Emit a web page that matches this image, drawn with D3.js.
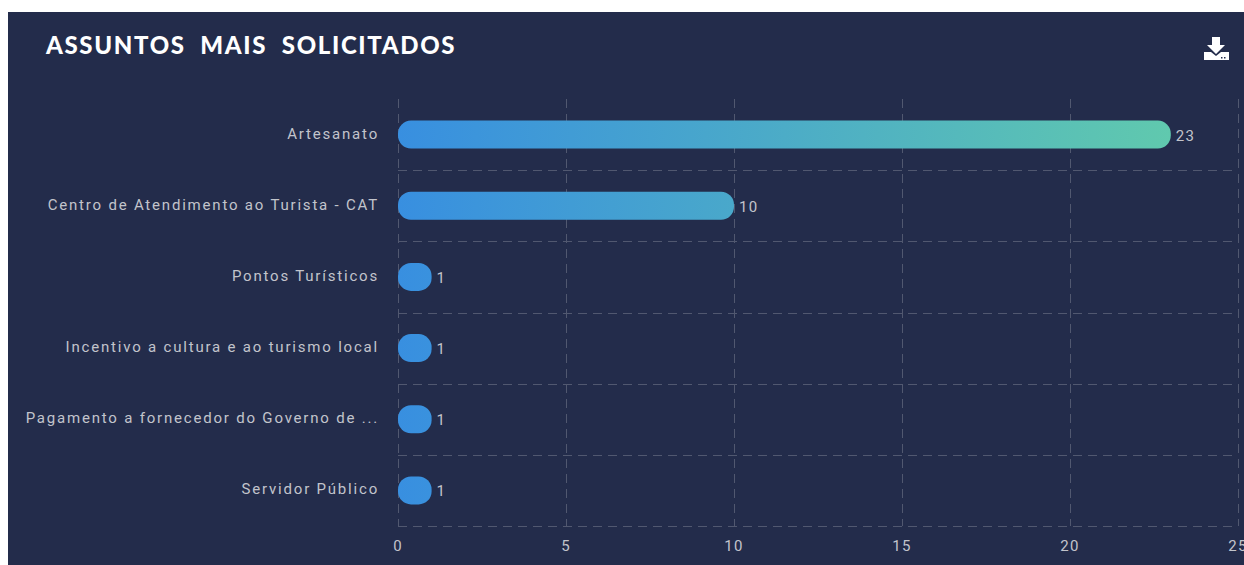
<!DOCTYPE html>
<html>
<head>
<meta charset="utf-8">
<script src="https://cdn.jsdelivr.net/npm/d3@7"></script>
<style>
  html, body { margin: 0; padding: 0; background: #fff; overflow: hidden; }
  svg { display: block; }
  text { font-family: Roboto, sans-serif; }
</style>
</head>
<body>
<div id="chart"></div>
<script>
const categories = [
  "Artesanato",
  "Centro de Atendimento ao Turista - CAT",
  "Pontos Turísticos",
  "Incentivo a cultura e ao turismo local",
  "Pagamento a fornecedor do Governo de ...",
  "Servidor Público"
];
const values = [23, 10, 1, 1, 1, 1];
const xTicks = [0, 5, 10, 15, 20, 25];
const title = "ASSUNTOS  MAIS  SOLICITADOS";

const width = 1244, height = 565;
const margin = { left: 398, right: 6, top: 99, bottom: 39 };
const textColor = "#c2c4cb";

const svg = d3.select("#chart").append("svg")
    .attr("width", width)
    .attr("height", height);

// panel
svg.append("rect")
    .attr("x", 8).attr("y", 12)
    .attr("width", width - 8).attr("height", height - 12)
    .attr("fill", "#232c4b");

const x = d3.scaleLinear().domain([0, 25]).range([margin.left, width - margin.right]);
const y = d3.scaleBand().domain(categories).range([margin.top, height - margin.bottom]);

// bars share one gradient across the longest bar
const grad = svg.append("defs").append("linearGradient")
    .attr("id", "barGrad")
    .attr("gradientUnits", "userSpaceOnUse")
    .attr("x1", x(0)).attr("x2", x(d3.max(values)))
    .attr("y1", 0).attr("y2", 0);
grad.append("stop").attr("offset", "0%").attr("stop-color", "#388fe0");
grad.append("stop").attr("offset", "100%").attr("stop-color", "#60c9ae");

// grid
const grid = svg.append("g")
    .attr("stroke", "#515870")
    .attr("stroke-width", 1)
    .attr("stroke-dasharray", "9 6")
    .attr("fill", "none");
grid.selectAll("line.v")
  .data(xTicks)
  .join("line")
    .attr("class", "v")
    .attr("x1", d => Math.round(x(d)) + 0.5).attr("x2", d => Math.round(x(d)) + 0.5)
    .attr("y1", margin.top).attr("y2", height - margin.bottom);
grid.selectAll("line.h")
  .data(categories)
  .join("line")
    .attr("class", "h")
    .attr("x1", x(0)).attr("x2", x(25))
    .attr("y1", d => Math.round(y(d) + y.bandwidth()) + 0.5)
    .attr("y2", d => Math.round(y(d) + y.bandwidth()) + 0.5);

// bars
const barH = 28;
const barY = d => y(d) + (y.bandwidth() - barH) / 2;
svg.append("g").selectAll("rect")
  .data(categories)
  .join("rect")
    .attr("x", x(0))
    .attr("y", barY)
    .attr("width", (d, i) => x(values[i]) - x(0))
    .attr("height", barH)
    .attr("rx", 13).attr("ry", 13)
    .attr("fill", "url(#barGrad)");

// value labels
svg.append("g").selectAll("text")
  .data(categories)
  .join("text")
    .attr("x", (d, i) => x(values[i]) + 5)
    .attr("y", d => barY(d) + barH / 2 + 6)
    .attr("fill", textColor)
    .style("font-size", "15px")
    .style("letter-spacing", "1.2px")
    .text((d, i) => values[i]);

// category labels
svg.append("g").selectAll("text")
  .data(categories)
  .join("text")
    .attr("x", 379)
    .attr("y", d => barY(d) + barH / 2 + 4)
    .attr("text-anchor", "end")
    .attr("fill", textColor)
    .style("font-size", "15px")
    .style("letter-spacing", "1.8px")
    .text(d => d);

// x tick labels
svg.append("g").selectAll("text")
  .data(xTicks)
  .join("text")
    .attr("x", d => x(d))
    .attr("y", 551)
    .attr("text-anchor", "middle")
    .attr("fill", textColor)
    .style("font-size", "15px")
    .style("letter-spacing", "1.2px")
    .text(d => d);

// title
svg.append("text")
    .attr("x", 46).attr("y", 54)
    .attr("fill", "#fff")
    .style("font-family", "Lato, sans-serif")
    .style("font-weight", 900)
    .style("font-size", "24px")
    .style("letter-spacing", "1.65px")
    .style("white-space", "pre")
    .text(title);

// download icon
const icon = svg.append("g").attr("fill", "#fff");
icon.append("path").attr("d", "M1212 37h8v8h5l-9 9-9-9h5z");
icon.append("path").attr("d", "M1204 60v-8h7l5 4 5-4h8v8z");
icon.append("path").attr("d", "M1221 57h1.5v1.5h-1.5zM1224 57h1.5v1.5h-1.5z").attr("fill", "#232c4b");
</script>
</body>
</html>
